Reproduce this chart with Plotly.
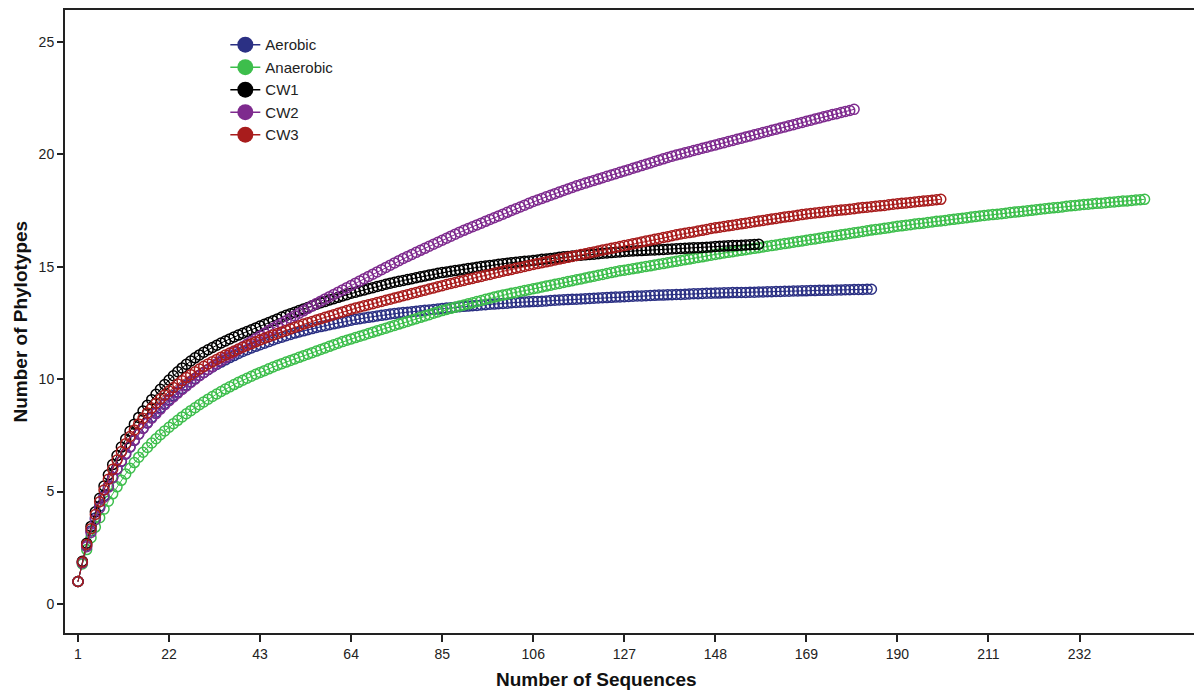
import plotly.graph_objects as go

series_names = ["Aerobic", "Anaerobic", "CW1", "CW2", "CW3"]
series_colors = ["#2B3084", "#3DBE4C", "#000000", "#7E2A8E", "#A81C1C"]

aerobic = [1.00, 1.85, 2.60, 3.25, 3.83, 4.35, 4.82, 5.25, 5.64, 6.00,
    6.34, 6.66, 6.97, 7.27, 7.55, 7.82, 8.07, 8.31, 8.53, 8.73,
    8.92, 9.10, 9.27, 9.43, 9.59, 9.74, 9.89, 10.03, 10.17, 10.30,
    10.42, 10.54, 10.65, 10.76, 10.86, 10.96, 11.05, 11.14, 11.23, 11.31,
    11.39, 11.46, 11.53, 11.60, 11.67, 11.74, 11.81, 11.87, 11.93, 11.99,
    12.05, 12.10, 12.15, 12.20, 12.25, 12.30, 12.34, 12.38, 12.42, 12.46,
    12.50, 12.54, 12.58, 12.62, 12.66, 12.69, 12.72, 12.75, 12.78, 12.81,
    12.84, 12.87, 12.90, 12.92, 12.94, 12.96, 12.98, 13.00, 13.02, 13.04,
    13.06, 13.08, 13.10, 13.12, 13.14, 13.16, 13.18, 13.20, 13.22, 13.24,
    13.25, 13.27, 13.28, 13.30, 13.31, 13.33, 13.34, 13.36, 13.37, 13.38,
    13.40, 13.41, 13.42, 13.43, 13.44, 13.45, 13.46, 13.47, 13.48, 13.50,
    13.51, 13.52, 13.53, 13.54, 13.55, 13.56, 13.57, 13.58, 13.59, 13.60,
    13.61, 13.62, 13.63, 13.64, 13.65, 13.66, 13.67, 13.68, 13.69, 13.70,
    13.70, 13.71, 13.72, 13.73, 13.74, 13.74, 13.75, 13.76, 13.77, 13.77,
    13.78, 13.79, 13.80, 13.80, 13.81, 13.82, 13.82, 13.83, 13.83, 13.84,
    13.84, 13.85, 13.85, 13.86, 13.86, 13.87, 13.87, 13.88, 13.88, 13.89,
    13.89, 13.90, 13.90, 13.91, 13.91, 13.92, 13.92, 13.93, 13.93, 13.94,
    13.94, 13.95, 13.95, 13.96, 13.96, 13.97, 13.97, 13.98, 13.98, 13.99,
    13.99, 13.99, 14.00, 14.00]

anaerobic = [1.00, 1.78, 2.42, 2.95, 3.42, 3.84, 4.22, 4.57, 4.90, 5.21,
    5.50, 5.78, 6.04, 6.29, 6.53, 6.75, 6.96, 7.16, 7.35, 7.53,
    7.70, 7.86, 8.02, 8.17, 8.32, 8.46, 8.60, 8.73, 8.86, 8.99,
    9.11, 9.23, 9.34, 9.45, 9.56, 9.66, 9.76, 9.86, 9.95, 10.04,
    10.13, 10.22, 10.30, 10.38, 10.46, 10.54, 10.62, 10.69, 10.76, 10.83,
    10.90, 10.97, 11.04, 11.11, 11.18, 11.25, 11.32, 11.39, 11.46, 11.53,
    11.60, 11.67, 11.73, 11.79, 11.85, 11.91, 11.97, 12.03, 12.09, 12.15,
    12.21, 12.27, 12.33, 12.39, 12.45, 12.51, 12.57, 12.63, 12.69, 12.75,
    12.81, 12.87, 12.93, 12.99, 13.05, 13.10, 13.15, 13.20, 13.25, 13.30,
    13.35, 13.40, 13.45, 13.50, 13.55, 13.60, 13.65, 13.70, 13.74, 13.78,
    13.82, 13.86, 13.90, 13.94, 13.98, 14.02, 14.06, 14.10, 14.14, 14.18,
    14.22, 14.26, 14.30, 14.34, 14.38, 14.42, 14.46, 14.50, 14.54, 14.58,
    14.62, 14.66, 14.70, 14.74, 14.78, 14.82, 14.85, 14.88, 14.91, 14.94,
    14.98, 15.01, 15.04, 15.08, 15.11, 15.14, 15.18, 15.21, 15.24, 15.28,
    15.31, 15.34, 15.38, 15.41, 15.44, 15.48, 15.51, 15.55, 15.58, 15.61,
    15.64, 15.67, 15.70, 15.73, 15.76, 15.79, 15.82, 15.85, 15.88, 15.91,
    15.94, 15.97, 16.00, 16.03, 16.06, 16.09, 16.12, 16.15, 16.18, 16.21,
    16.24, 16.27, 16.30, 16.33, 16.36, 16.39, 16.42, 16.45, 16.48, 16.51,
    16.54, 16.57, 16.60, 16.63, 16.66, 16.68, 16.71, 16.74, 16.77, 16.80,
    16.82, 16.85, 16.87, 16.90, 16.92, 16.94, 16.97, 16.99, 17.02, 17.04,
    17.06, 17.09, 17.11, 17.14, 17.16, 17.18, 17.21, 17.23, 17.26, 17.28,
    17.30, 17.32, 17.34, 17.36, 17.38, 17.41, 17.43, 17.45, 17.47, 17.49,
    17.51, 17.54, 17.56, 17.58, 17.60, 17.62, 17.64, 17.66, 17.69, 17.71,
    17.73, 17.75, 17.77, 17.78, 17.80, 17.82, 17.83, 17.85, 17.87, 17.88,
    17.90, 17.92, 17.93, 17.95, 17.97, 17.98, 18.00]

cw1 = [1.00, 1.90, 2.70, 3.45, 4.10, 4.70, 5.25, 5.75, 6.20, 6.60,
    6.98, 7.34, 7.68, 8.00, 8.30, 8.58, 8.84, 9.09, 9.33, 9.55,
    9.76, 9.96, 10.15, 10.33, 10.50, 10.66, 10.81, 10.95, 11.08, 11.20,
    11.31, 11.41, 11.51, 11.61, 11.70, 11.79, 11.88, 11.96, 12.04, 12.12,
    12.20, 12.28, 12.36, 12.44, 12.52, 12.60, 12.68, 12.76, 12.84, 12.91,
    12.98, 13.05, 13.12, 13.19, 13.26, 13.33, 13.40, 13.46, 13.52, 13.58,
    13.64, 13.70, 13.76, 13.82, 13.87, 13.92, 13.97, 14.02, 14.07, 14.12,
    14.17, 14.22, 14.27, 14.31, 14.35, 14.39, 14.43, 14.47, 14.51, 14.55,
    14.59, 14.63, 14.67, 14.71, 14.74, 14.77, 14.80, 14.83, 14.86, 14.89,
    14.92, 14.95, 14.98, 15.01, 15.03, 15.06, 15.08, 15.11, 15.13, 15.16,
    15.18, 15.20, 15.22, 15.24, 15.26, 15.28, 15.30, 15.33, 15.35, 15.37,
    15.39, 15.42, 15.44, 15.46, 15.48, 15.50, 15.51, 15.53, 15.55, 15.56,
    15.58, 15.60, 15.61, 15.63, 15.65, 15.66, 15.68, 15.69, 15.70, 15.71,
    15.72, 15.73, 15.74, 15.75, 15.76, 15.77, 15.78, 15.79, 15.80, 15.81,
    15.82, 15.83, 15.84, 15.85, 15.86, 15.87, 15.88, 15.90, 15.91, 15.92,
    15.93, 15.94, 15.95, 15.96, 15.97, 15.98, 15.99, 16.00]

cw2 = [1.00, 1.83, 2.55, 3.18, 3.75, 4.27, 4.75, 5.20, 5.62, 6.00,
    6.36, 6.69, 7.00, 7.29, 7.56, 7.81, 8.04, 8.26, 8.47, 8.67,
    8.86, 9.04, 9.21, 9.38, 9.54, 9.70, 9.85, 10.00, 10.15, 10.29,
    10.43, 10.56, 10.69, 10.82, 10.95, 11.08, 11.20, 11.32, 11.44, 11.56,
    11.68, 11.80, 11.92, 12.04, 12.16, 12.27, 12.38, 12.49, 12.60, 12.71,
    12.82, 12.93, 13.04, 13.15, 13.26, 13.37, 13.47, 13.57, 13.67, 13.77,
    13.87, 13.97, 14.07, 14.17, 14.27, 14.37, 14.47, 14.57, 14.67, 14.77,
    14.87, 14.97, 15.07, 15.17, 15.27, 15.37, 15.46, 15.55, 15.64, 15.73,
    15.82, 15.91, 16.00, 16.09, 16.18, 16.27, 16.36, 16.45, 16.54, 16.62,
    16.70, 16.78, 16.86, 16.94, 17.02, 17.10, 17.18, 17.26, 17.34, 17.42,
    17.50, 17.58, 17.66, 17.74, 17.82, 17.90, 17.97, 18.04, 18.11, 18.18,
    18.25, 18.32, 18.39, 18.46, 18.53, 18.60, 18.66, 18.72, 18.78, 18.84,
    18.90, 18.96, 19.02, 19.08, 19.14, 19.20, 19.26, 19.32, 19.38, 19.44,
    19.50, 19.56, 19.62, 19.68, 19.74, 19.80, 19.86, 19.92, 19.97, 20.02,
    20.07, 20.12, 20.17, 20.22, 20.27, 20.32, 20.37, 20.42, 20.47, 20.52,
    20.57, 20.62, 20.67, 20.72, 20.77, 20.82, 20.87, 20.92, 20.97, 21.02,
    21.07, 21.12, 21.17, 21.22, 21.27, 21.32, 21.37, 21.42, 21.47, 21.52,
    21.57, 21.62, 21.67, 21.72, 21.77, 21.81, 21.86, 21.91, 21.95, 22.00]

cw3 = [1.00, 1.87, 2.65, 3.35, 3.98, 4.55, 5.07, 5.55, 5.99, 6.40,
    6.78, 7.13, 7.45, 7.74, 8.01, 8.26, 8.50, 8.72, 8.93, 9.12,
    9.30, 9.47, 9.63, 9.78, 9.93, 10.07, 10.20, 10.33, 10.45, 10.57,
    10.68, 10.78, 10.88, 10.98, 11.07, 11.16, 11.25, 11.34, 11.42, 11.50,
    11.58, 11.66, 11.74, 11.82, 11.89, 11.96, 12.03, 12.10, 12.17, 12.24,
    12.31, 12.38, 12.45, 12.51, 12.57, 12.63, 12.69, 12.75, 12.81, 12.87,
    12.93, 12.99, 13.05, 13.11, 13.16, 13.21, 13.26, 13.31, 13.36, 13.41,
    13.46, 13.51, 13.56, 13.61, 13.66, 13.71, 13.76, 13.81, 13.86, 13.91,
    13.96, 14.01, 14.06, 14.11, 14.16, 14.21, 14.26, 14.30, 14.35, 14.39,
    14.44, 14.48, 14.53, 14.57, 14.62, 14.66, 14.71, 14.75, 14.80, 14.84,
    14.88, 14.93, 14.97, 15.01, 15.06, 15.10, 15.14, 15.18, 15.22, 15.26,
    15.30, 15.34, 15.38, 15.42, 15.46, 15.50, 15.54, 15.58, 15.62, 15.66,
    15.70, 15.74, 15.78, 15.82, 15.86, 15.90, 15.94, 15.98, 16.02, 16.06,
    16.10, 16.14, 16.18, 16.22, 16.26, 16.30, 16.34, 16.38, 16.42, 16.46,
    16.49, 16.52, 16.55, 16.59, 16.62, 16.66, 16.70, 16.73, 16.76, 16.79,
    16.82, 16.85, 16.88, 16.91, 16.94, 16.97, 17.00, 17.03, 17.06, 17.09,
    17.12, 17.15, 17.18, 17.21, 17.23, 17.26, 17.29, 17.32, 17.35, 17.37,
    17.39, 17.41, 17.43, 17.46, 17.48, 17.50, 17.52, 17.54, 17.56, 17.58,
    17.61, 17.63, 17.65, 17.67, 17.69, 17.71, 17.73, 17.76, 17.78, 17.80,
    17.82, 17.84, 17.86, 17.88, 17.90, 17.92, 17.94, 17.96, 17.98, 18.00]

x_tick_values = [1, 22, 43, 64, 85, 106, 127, 148, 169, 190, 211, 232]
y_tick_values = [0, 5, 10, 15, 20, 25]
x_title = "Number of Sequences"
y_title = "Number of Phylotypes"

series_values = [aerobic, anaerobic, cw1, cw2, cw3]

fig = go.Figure()
for name, color, vals in zip(series_names, series_colors, series_values):
    xs = list(range(1, len(vals) + 1))
    fig.add_trace(go.Scatter(
        x=xs, y=vals, mode="lines+markers", name=name, showlegend=False,
        line=dict(color=color, width=1),
        marker=dict(symbol="circle-open", size=10, color=color,
                    line=dict(color=color, width=1.5)),
    ))
# legend entries (filled circles, as in the reference legend)
for name, color in zip(series_names, series_colors):
    fig.add_trace(go.Scatter(
        x=[None], y=[None], mode="lines+markers", name=name,
        line=dict(color=color, width=1.5),
        marker=dict(symbol="circle", size=16, color=color),
    ))

font_family = "Liberation Sans, Arial, sans-serif"
fig.update_layout(
    width=1194, height=690,
    margin=dict(l=65, r=0, t=10, b=57),
    paper_bgcolor="white", plot_bgcolor="white",
    font=dict(family=font_family, size=14, color="#222222"),
    showlegend=True,
    legend=dict(x=0.142, y=0.9705, xanchor="left", yanchor="top",
                bgcolor="rgba(0,0,0,0)", font=dict(size=15, color="#222222"),
                itemsizing="trace", tracegroupgap=0),
    xaxis=dict(range=[-2.0, 258.4], tickmode="array", tickvals=x_tick_values,
               ticks="outside", ticklen=7, tickwidth=1.5, tickcolor="#222222",
               showline=True, linecolor="#222222", linewidth=2, mirror=True,
               showgrid=False, zeroline=False,
               tickfont=dict(size=14, color="#222222")),
    yaxis=dict(range=[-1.29, 26.42], tickmode="array", tickvals=y_tick_values,
               ticks="outside", ticklen=6, tickwidth=1.5, tickcolor="#222222",
               showline=True, linecolor="#222222", linewidth=2,
               showgrid=False, zeroline=False,
               tickfont=dict(size=14, color="#222222")),
    annotations=[
        dict(text="<b>" + x_title + "</b>", xref="paper", yref="paper",
             x=0.471, y=0, yshift=-46, xanchor="center", yanchor="middle",
             showarrow=False, font=dict(size=19, color="#111111")),
        dict(text="<b>" + y_title + "</b>", xref="paper", yref="paper",
             x=0, xshift=-45, y=0.5, xanchor="center", yanchor="middle",
             textangle=-90, showarrow=False, font=dict(size=19, color="#111111")),
    ],
)

fig.write_html("out.html", config={"displayModeBar": False},
               post_script="document.body.style.margin='0';")
